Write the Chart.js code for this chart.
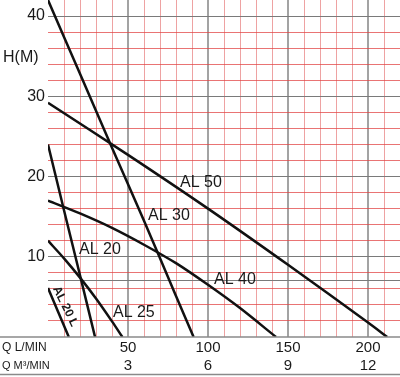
<!DOCTYPE html>
<html>
<head>
<meta charset="utf-8">
<script src="https://cdn.jsdelivr.net/npm/chart.js@4.4.1/dist/chart.umd.min.js"></script>
<style>
html, body { margin: 0; padding: 0; background: #fff; }
#wrap { width: 400px; height: 377px; }
</style>
</head>
<body>
<div id="wrap"><canvas id="pump" width="400" height="377"></canvas></div>
<script>
// Pump curves, Q in L/min, H in metres
const al50Q = [0, 50, 100, 150, 200, 212];
const al50H = [29.2, 22.7, 16.0, 9.0, 1.8, 0];
const al30Q = [0, 20, 40, 60, 80, 91];
const al30H = [42, 32.8, 23.6, 14.5, 5.1, 0];
const al40Q = [0, 20, 40, 60, 80, 100, 120, 142.5];
const al40H = [17, 15.4, 13.6, 11.5, 9.2, 6.5, 3.6, 0];
const al20Q = [0, 10, 20, 29.4];
const al20H = [24, 15.8, 7.7, 0];
const al25Q = [0, 10, 20, 30, 40, 46.5];
const al25H = [12, 9.8, 7.4, 4.8, 1.95, 0];
const al20lQ = [0, 6.5, 13];
const al20lH = [6.1, 3.05, 0];

// Axis labels
const lpmTicks = [50, 100, 150, 200];
const lpmLabels = ['50', '100', '150', '200'];
const m3Labels = ['3', '6', '9', '12'];
const hTicks = [10, 20, 30, 40];
const hLabels = ['10', '20', '30', '40'];
const refLine = 7; // extra grey line on the head axis

// Curve names and where their labels sit (data units)
const curveNames = ['AL 50', 'AL 30', 'AL 40', 'AL 20', 'AL 25'];
const labelQ = [82.5, 62.5, 103.75, 19.4, 40.6];
const labelH = [19.2, 15.1, 7.2, 10.85, 3.1];

const GREY_H = '#7a7a7a';
const GREY_V = '#a3a3a3';
const RED_H = 'rgba(225, 70, 70, 0.75)';
const RED_V = '#eea2a2';
const FONT = '"Liberation Sans", Arial, sans-serif';

function zip(qs, hs) {
    return qs.map((q, i) => ({ x: q, y: hs[i] }));
}

function curve(name, qs, hs) {
    return {
        label: name,
        data: zip(qs, hs),
        borderColor: '#111',
        borderWidth: 2.5,
        pointRadius: 0,
        tension: 0.3,
        fill: false
    };
}

function evenTicks(max, step, extra) {
    const ticks = [];
    for (let v = 0; v <= max; v += step) ticks.push({ value: v });
    if (extra !== undefined) ticks.push({ value: extra });
    return ticks.sort((a, b) => a.value - b.value);
}

const textPlugin = {
    id: 'pumpText',
    afterDraw(chart) {
        const ctx = chart.ctx;
        const area = chart.chartArea;
        const xs = chart.scales.x;
        const ys = chart.scales.y;
        const row1 = area.bottom + 10.5;
        const row2 = area.bottom + 29;
        ctx.save();

        // full-width rules under the plot and under the table
        ctx.strokeStyle = '#8a8a8a';
        ctx.lineWidth = 1.5;
        [area.bottom, area.bottom + 37.5].forEach(y => {
            ctx.beginPath();
            ctx.moveTo(0, y);
            ctx.lineTo(chart.width, y);
            ctx.stroke();
        });

        ctx.fillStyle = '#1a1a1a';
        ctx.textBaseline = 'middle';
        ctx.textAlign = 'left';

        ctx.font = '16px ' + FONT;
        ctx.fillText('H(M)', 3, 58);

        curveNames.forEach((name, i) => {
            ctx.fillText(name, xs.getPixelForValue(labelQ[i]), ys.getPixelForValue(labelH[i]));
        });

        // flow table: L/min on the first row, m3 on the second
        ctx.font = '12px ' + FONT;
        ctx.fillText('Q L/MIN', 2, row1);
        ctx.font = '11px ' + FONT;
        ctx.fillText('Q M³/MIN', 2, row2);

        ctx.textAlign = 'center';
        ctx.font = '15px ' + FONT;
        lpmTicks.forEach((q, i) => {
            const px = xs.getPixelForValue(q);
            ctx.fillText(lpmLabels[i], px, row1);
            ctx.fillText(m3Labels[i], px, row2);
        });

        // rotated label on the small curve
        ctx.translate(xs.getPixelForValue(10.8), ys.getPixelForValue(3.8));
        ctx.rotate(64 * Math.PI / 180);
        ctx.font = 'bold 12px ' + FONT;
        ctx.fillText('AL 20 L', 0, 0);

        ctx.restore();
    }
};

new Chart(document.getElementById('pump'), {
    type: 'line',
    data: {
        datasets: [
            curve('AL 50', al50Q, al50H),
            curve('AL 30', al30Q, al30H),
            curve('AL 40', al40Q, al40H),
            curve('AL 20', al20Q, al20H),
            curve('AL 25', al25Q, al25H),
            curve('AL 20 L', al20lQ, al20lH)
        ]
    },
    options: {
        responsive: false,
        animation: false,
        layout: { padding: 0 },
        plugins: {
            legend: { display: false },
            tooltip: { enabled: false }
        },
        scales: {
            x: {
                type: 'linear',
                min: 0,
                max: 220,
                afterFit(scale) {
                    scale.height = 40;
                    scale.paddingLeft = 0;
                    scale.paddingRight = 0;
                },
                afterBuildTicks(scale) { scale.ticks = evenTicks(220, 10); },
                border: { display: false },
                ticks: { display: false },
                grid: {
                    drawTicks: false,
                    color(c) {
                        const v = c.tick ? c.tick.value : 0;
                        if (v === 0) return 'rgba(0,0,0,0)';
                        return v % 50 === 0 ? GREY_V : RED_V;
                    },
                    lineWidth(c) {
                        const v = c.tick ? c.tick.value : 0;
                        return v % 50 === 0 ? 2 : 1;
                    }
                }
            },
            y: {
                type: 'linear',
                min: 0,
                max: 42,
                afterFit(scale) {
                    scale.width = 48;
                    scale.paddingTop = 0;
                    scale.paddingBottom = 0;
                },
                afterBuildTicks(scale) { scale.ticks = evenTicks(42, 2, refLine); },
                border: { display: false },
                grid: {
                    drawTicks: false,
                    color(c) {
                        const v = c.tick ? c.tick.value : 0;
                        if (v === 0 || v === 42) return 'rgba(0,0,0,0)';
                        return (v % 10 === 0 || v === refLine) ? GREY_H : RED_H;
                    },
                    lineWidth: 1
                },
                ticks: {
                    autoSkip: false,
                    padding: 3,
                    color: '#1a1a1a',
                    font: { family: FONT, size: 16 },
                    callback(value) {
                        const i = hTicks.indexOf(value);
                        return i < 0 ? '' : hLabels[i];
                    }
                }
            }
        }
    },
    plugins: [textPlugin]
});
</script>
</body>
</html>
